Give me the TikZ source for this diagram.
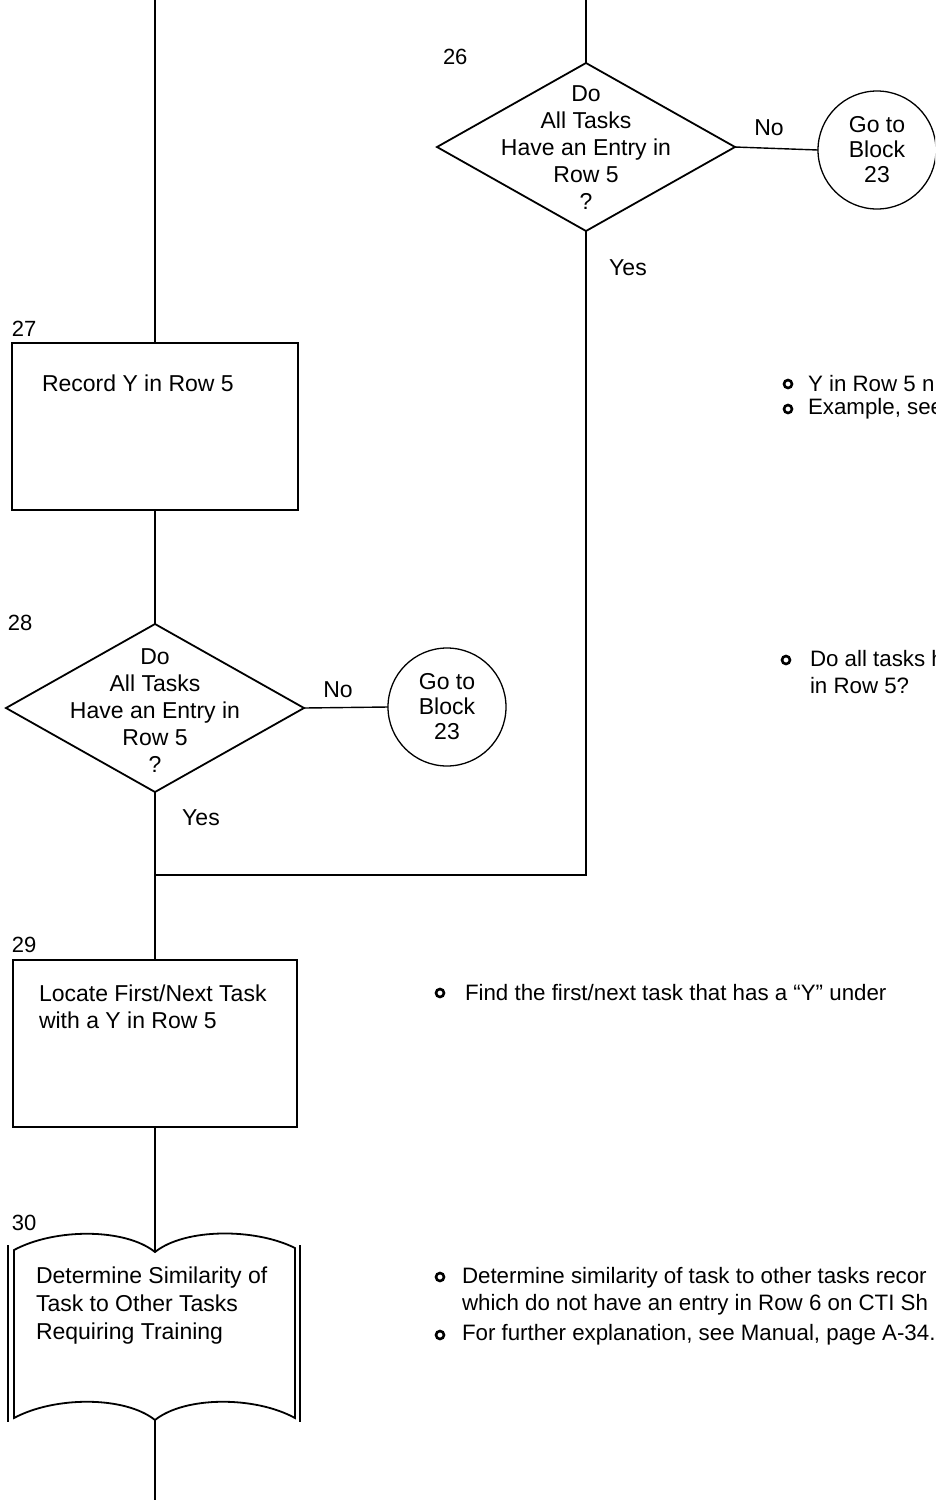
\documentclass[tikz,border=0pt]{standalone}
\usepackage{fontspec}
\setmainfont{Liberation Sans}
\usetikzlibrary{shapes.geometric}
\begin{document}
\begin{tikzpicture}[x=1pt,y=-1pt,
  every node/.style={inner sep=0pt, outer sep=0pt},
  txt/.style={font=\fontsize{23}{26}\selectfont},
  ml/.style={font=\fontsize{23}{27}\selectfont},
  note/.style={font=\fontsize{22.3}{26.5}\selectfont, anchor=west, align=left},
  conn/.style={line width=1.9pt},
  thinconn/.style={line width=1.4pt},
  procbox/.style={draw, line width=1.9pt, minimum height=167pt},
  decision/.style={diamond, draw, line width=1.8pt, minimum width=298pt, minimum height=168pt},
  goto/.style={circle, draw, line width=1.3pt, minimum size=118pt, align=center, font=\fontsize{23}{25}\selectfont},
  num/.style={font=\fontsize{22}{26}\selectfont, anchor=west},
  bul/.style={circle, draw, line width=2.6pt, minimum size=8pt},
  bookline/.style={line width=1.8pt}
]
\useasboundingbox (0,0) rectangle (935,1500);
\clip (0,0) rectangle (935,1500);
\fill[white] (0,0) rectangle (935,1500);

% ---------- block 26 ----------
\node[decision] (d26) at (586,147) {};
\node[ml, align=center] (d26t) at (586,148) {Do\\All Tasks\\Have an Entry in\\Row 5\\?};
\node[goto] (c26) at (877,150) {Go to\\Block\\23};
\coordinate (top26) at (586,0);
\draw[conn] (top26) -- (d26.north);
\draw[thinconn] (d26.east) -- (c26.west);
\node[txt] (no26) at (769,128) {No};
\node[txt] (yes26) at (628,268) {Yes};
\node[num] (l26) at (443,57) {26};

% ---------- block 27 ----------
\node[procbox, minimum width=286pt] (b27) at (155,426.5) {};
\coordinate (top27) at (155,0);
\draw[conn] (top27) -- (b27.north);
\node[num] (l27) at (12,329) {27};
\node[txt, anchor=west] (b27t) at (42,383) {Record Y in Row 5};

% ---------- block 28 ----------
\node[decision] (d28) at (155,708) {};
\node[ml, align=center] (d28t) at (155,711) {Do\\All Tasks\\Have an Entry in\\Row 5\\?};
\draw[conn] (b27.south) -- (d28.north);
\node[goto] (c28) at (447,707) {Go to\\Block\\23};
\draw[thinconn] (d28.east) -- (c28.west);
\node[txt] (no28) at (338,690) {No};
\node[txt] (yes28) at (201,818) {Yes};
\node[num] (l28) at (8,623) {28};

% ---------- block 29 ----------
\node[procbox, minimum width=284pt] (b29) at (155,1043.5) {};
\coordinate (j) at (155,875);
\draw[conn] (d28.south) -- (b29.north);
\draw[conn] (d26.south) |- (j);
\node[num] (l29) at (12,945) {29};
\node[ml, anchor=west, align=left] (b29t) at (39,1007) {Locate First/Next Task\\with a Y in Row 5};

% ---------- block 30 (manual) ----------
\coordinate (bt) at (155,1252);
\coordinate (bb) at (155,1420);
\coordinate (bot) at (155,1500);
\draw[bookline] (14,1250) .. controls (55,1228) and (125,1228) .. (bt)
  .. controls (185,1228) and (255,1228) .. (295,1248) -- (295,1418)
  .. controls (255,1396) and (185,1396) .. (bb)
  .. controls (125,1396) and (55,1396) .. (14,1418) -- cycle;
\draw[bookline] (8,1245) -- (8,1422);
\draw[bookline] (300,1245) -- (300,1422);
\draw[conn] (b29.south) -- (bt);
\draw[conn] (bb) -- (bot);
\node[num] (l30) at (12,1223) {30};
\node[font=\fontsize{23}{28}\selectfont, anchor=west, align=left] (b30t) at (36,1306) {Determine Similarity of\\Task to Other Tasks\\Requiring Training};

% ---------- notes ----------
\node[bul] (n1b) at (788,384) {};
\node[note] (n1) at (808,384) {Y in Row 5 n};
\node[bul] (n2b) at (788,409) {};
\node[note] (n2) at (808,409) {Example, see};
\node[bul] (n3b) at (786,660) {};
\node[note] (n3) at (810,672) {Do all tasks h\\in Row 5?};
\node[bul] (n4b) at (440,993) {};
\node[note] (n4) at (465,993) {Find the first/next task that has a “Y” under};
\node[bul] (n5b) at (440,1277) {};
\node[note] (n5) at (462,1291) {Determine similarity of task to other tasks recor\\which do not have an entry in Row 6 on CTI Sh};
\node[bul] (n6b) at (440,1335) {};
\node[note] (n6) at (462,1335) {For further explanation, see Manual, page A-34.};
\end{tikzpicture}
\end{document}
